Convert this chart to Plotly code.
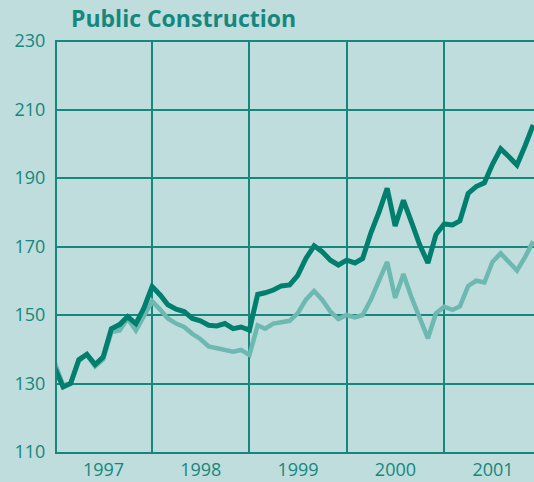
import pandas as pd
import plotly.graph_objects as go

months = pd.date_range("1997-01-01", periods=60, freq="MS")

dark_values = [
    134.5, 129.0, 130.0, 137.0, 138.5, 135.5, 137.7, 146.0, 147.2, 149.5, 147.5, 152.0,
    158.3, 155.8, 153.0, 151.7, 151.0, 149.0, 148.3, 147.0, 146.8, 147.5, 146.0, 146.5,
    145.6, 156.0, 156.5, 157.3, 158.5, 158.8, 161.5, 166.5, 170.2, 168.5, 166.0, 164.6,
    166.0, 165.2, 166.5, 174.0, 180.0, 187.0, 176.0, 183.5, 177.0, 170.5, 165.2, 173.5,
    176.6, 176.3, 177.5, 185.5, 187.5, 188.6, 194.0, 198.5, 196.2, 193.8, 199.5, 205.5,
]
light_values = [
    136.0, 129.5, 130.0, 136.5, 138.5, 135.0, 137.0, 145.0, 145.5, 149.0, 145.5, 150.0,
    154.0, 151.5, 149.0, 147.5, 146.5, 144.5, 143.0, 140.8, 140.3, 139.5, 139.3, 139.8,
    138.3, 147.0, 146.0, 147.5, 148.0, 148.3, 150.5, 154.5, 157.0, 154.5, 151.0, 148.8,
    150.0, 149.3, 150.0, 154.5, 160.0, 165.5, 155.0, 162.0, 155.0, 149.0, 143.2, 150.5,
    152.4, 151.5, 152.5, 158.5, 160.0, 159.5, 165.5, 168.0, 165.3, 163.0, 167.0, 171.5,
]
y_ticks = [110, 130, 150, 170, 190, 210, 230]

BG = "#bfdddc"
GRID = "#15877d"
TEXT = "#15877d"
DARK = "#007f6f"
LIGHT = "#6db8b1"

fig = go.Figure()
fig.add_trace(go.Scatter(x=months, y=light_values, mode="lines",
                         line=dict(color=LIGHT, width=4.5), showlegend=False))
fig.add_trace(go.Scatter(x=months, y=dark_values, mode="lines",
                         line=dict(color=DARK, width=5), showlegend=False))

fig.update_layout(
    width=534, height=482,
    margin=dict(l=57, r=0, t=40, b=30),
    paper_bgcolor=BG, plot_bgcolor=BG,
    font=dict(family="Open Sans", color=TEXT, size=18),
    title=dict(text="<b>Public Construction</b>", x=71/534, xref="container",
               xanchor="left", y=1-19/482, yanchor="middle",
               font=dict(family="Open Sans", size=23, color=TEXT)),
    xaxis=dict(type="date", range=["1997-01-09", "2001-12-04"],
               tick0="1997-01-01", dtick="M12", tickformat="%Y",
               ticklabelmode="period", showgrid=True, gridcolor=GRID, gridwidth=2,
               showline=True, linecolor=GRID, linewidth=2, ticks="",
               tickfont=dict(size=18, color=TEXT), zeroline=False),
    yaxis=dict(range=[110, 230.3], tickvals=y_ticks, showgrid=True,
               gridcolor=GRID, gridwidth=2, showline=True, linecolor=GRID,
               linewidth=2, ticks="", ticklabelstandoff=6,
               tickfont=dict(size=18, color=TEXT), zeroline=False),
)

fig.write_html("out.html")
